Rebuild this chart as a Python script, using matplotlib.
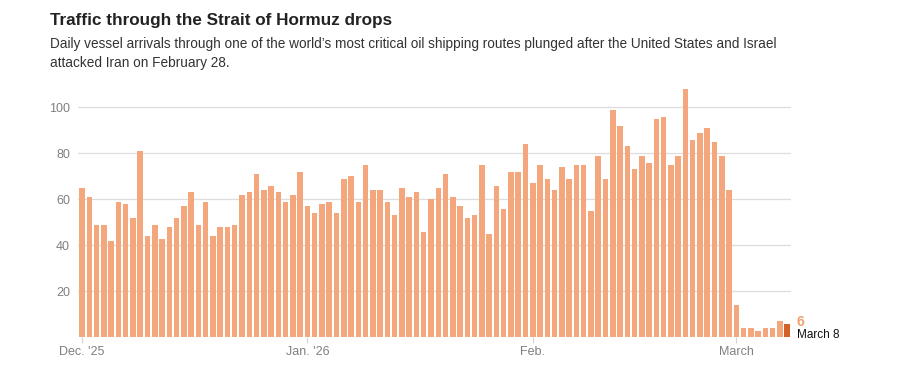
import pandas as pd
import matplotlib.pyplot as plt

# daily vessel arrivals, Dec 1 2025 - Mar 8 2026
dec_vals = [65, 61, 49, 49, 42, 59, 58, 52, 81, 44, 49, 43, 48, 52, 57, 63,
            49, 59, 44, 48, 48, 49, 62, 63, 71, 64, 66, 63, 59, 62, 72]
jan_vals = [57, 54, 58, 59, 54, 69, 70, 59, 75, 64, 64, 59, 53, 65, 61, 63,
            46, 60, 65, 71, 61, 57, 52, 53, 75, 45, 66, 56, 72, 72, 84]
feb_vals = [67, 75, 69, 64, 74, 69, 75, 75, 55, 79, 69, 99, 92, 83, 73, 79,
            76, 95, 96, 75, 79, 108, 86, 89, 91, 85, 79, 64]
mar_vals = [14, 4, 4, 3, 4, 4, 7, 6]

values = dec_vals + jan_vals + feb_vals + mar_vals
dates = pd.date_range("2025-12-01", periods=len(values), freq="D")

month_starts = ["2025-12-01", "2026-01-01", "2026-02-01", "2026-03-01"]
month_labels = ["Dec. '25", "Jan. '26", "Feb.", "March"]
y_ticks = [20, 40, 60, 80, 100]

bar_color = "#f4a77c"
last_color = "#d2612a"
font = ["Liberation Sans", "DejaVu Sans"]

fig = plt.figure(figsize=(9.11, 3.81), dpi=100)
ax = fig.add_axes([0.0861, 0.1142, 0.782, 0.6646])

x = list(range(len(values)))
colors = [bar_color] * (len(values) - 1) + [last_color]
ax.bar(x, values, width=0.76, color=colors, zorder=2)

ax.set_xlim(-0.5, len(values) - 0.5)
ax.set_ylim(0, 110)
ax.set_yticks(y_ticks)
ax.set_yticklabels([str(v) for v in y_ticks], family=font, fontsize=9, color="#808080")
ax.grid(axis="y", color="#dddddd", linewidth=0.9, zorder=0)

tick_pos = [list(dates).index(pd.Timestamp(d)) for d in month_starts]
ax.set_xticks(tick_pos)
ax.set_xticklabels(month_labels, family=font, fontsize=9, color="#808080")
ax.tick_params(axis="x", length=4, color="#d5d5d5", pad=2)
ax.tick_params(axis="y", length=0, pad=6)
for s in ax.spines.values():
    s.set_visible(False)

# label for the last day
ax.annotate(str(values[-1]), xy=(x[-1], 0), xytext=(7, 8.5),
            textcoords="offset points", family=font, fontsize=10,
            fontweight="bold", color="#f0a06e", ha="left", va="baseline")
ax.annotate("March 8", xy=(x[-1], 0), xytext=(7, -0.5),
            textcoords="offset points", family=font, fontsize=8.5,
            color="#111111", ha="left", va="baseline")

fig.text(50 / 911, 1 - 20 / 381, "Traffic through the Strait of Hormuz drops",
         family=font, fontsize=12.3, fontweight="bold", color="#222222", va="center")
fig.text(50 / 911, 1 - 44 / 381,
         "Daily vessel arrivals through one of the world\u2019s most critical oil shipping "
         "routes plunged after the United States and Israel",
         family=font, fontsize=9.8, color="#333333", va="center")
fig.text(50 / 911, 1 - 63 / 381, "attacked Iran on February 28.",
         family=font, fontsize=9.8, color="#333333", va="center")

fig.savefig("out.png", dpi=100, facecolor="white")
